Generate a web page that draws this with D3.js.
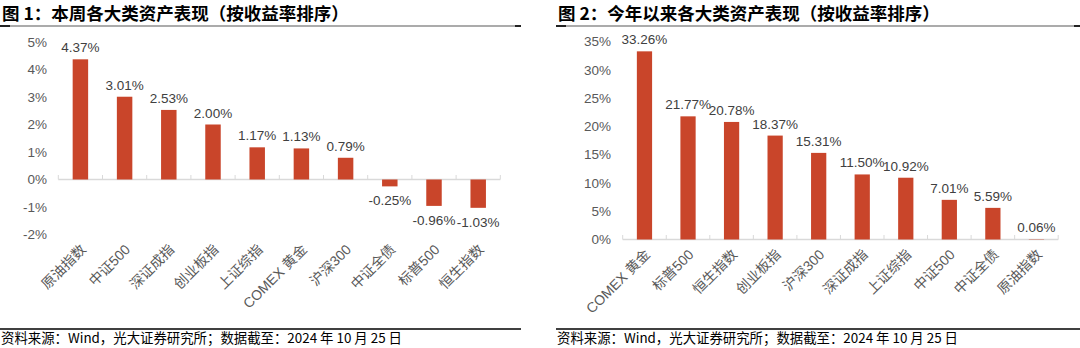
<!DOCTYPE html>
<html><head><meta charset="utf-8">
<script src="https://cdn.jsdelivr.net/npm/d3@7/dist/d3.min.js"></script>
<style>
html,body{margin:0;padding:0;background:#fff;}
svg{display:block;}
</style></head>
<body>
<svg id="c" width="1080" height="348"></svg>
<script>
// Chart 1: weekly performance
const cats1 = ["原油指数","中证500","深证成指","创业板指","上证综指","COMEX 黄金","沪深300","中证全债","标普500","恒生指数"];
const vals1 = [4.37, 3.01, 2.53, 2.00, 1.17, 1.13, 0.79, -0.25, -0.96, -1.03];
const ticks1 = [-2, -1, 0, 1, 2, 3, 4, 5];
const title1 = "图 1：本周各大类资产表现（按收益率排序）";

// Chart 2: year-to-date performance
const cats2 = ["COMEX 黄金","标普500","恒生指数","创业板指","沪深300","深证成指","上证综指","中证500","中证全债","原油指数"];
const vals2 = [33.26, 21.77, 20.78, 18.37, 15.31, 11.50, 10.92, 7.01, 5.59, 0.06];
const ticks2 = [0, 5, 10, 15, 20, 25, 30, 35];
const title2 = "图 2：今年以来各大类资产表现（按收益率排序）";

const source = "资料来源：Wind，光大证券研究所；数据截至：2024 年 10 月 25 日";

const svg = d3.select("#c");
const BAR = "#C9452A";
const LATIN = "'Liberation Sans', Arial, 'Noto Sans CJK SC', sans-serif";
const CJK = "'Noto Sans CJK SC', sans-serif";

function panel(opt){
  const g = svg.append("g");
  // title
  g.append("text").attr("x", opt.left + 2).attr("y", 20)
    .attr("font-family", CJK).attr("font-weight", "bold").attr("font-size", 17.5)
    .attr("fill", "#000").text(opt.title);
  g.append("line").attr("x1", opt.left).attr("x2", opt.right).attr("y1", 26).attr("y2", 26)
    .attr("stroke", "#595959").attr("stroke-width", 1.2);
  g.append("line").attr("x1", opt.left).attr("x2", opt.left + 10).attr("y1", 26).attr("y2", 26)
    .attr("stroke", "#000").attr("stroke-width", 1.6);
  g.append("line").attr("x1", opt.right - 6).attr("x2", opt.right).attr("y1", 26).attr("y2", 26)
    .attr("stroke", "#000").attr("stroke-width", 1.6);
  // source
  g.append("line").attr("x1", opt.left).attr("x2", opt.right).attr("y1", 329).attr("y2", 329)
    .attr("stroke", "#000").attr("stroke-width", 1.5);
  g.append("text").attr("x", opt.left + 1).attr("y", 343)
    .attr("font-family", CJK).attr("font-size", 13.4).attr("fill", "#000").text(source);

  const x = d3.scaleBand().domain(opt.cats).range([opt.px0, opt.px1])
    .paddingInner(0.65).paddingOuter(0.325);
  const y = d3.scaleLinear().domain(opt.domain).range(opt.yrange);

  // y axis labels
  const yAxis = d3.axisLeft(y).tickValues(opt.ticks).tickSize(0).tickPadding(0)
    .tickFormat(d => d + "%");
  const ya = g.append("g").attr("transform", `translate(${opt.ylab},0)`).call(yAxis);
  ya.select(".domain").remove();
  ya.selectAll("text").attr("font-family", LATIN).attr("font-size", 13.5).attr("fill", "#595959");

  // zero axis with tick marks pointing up
  const y0 = y(0);
  const step = x.step();
  const bounds = d3.range(opt.cats.length + 1).map(i => opt.px0 + i * step);
  g.append("line").attr("x1", opt.px0).attr("x2", opt.px1).attr("y1", y0).attr("y2", y0)
    .attr("stroke", "#d9d9d9").attr("stroke-width", 1.5);
  g.selectAll(".tk").data(bounds).enter().append("line")
    .attr("x1", d => d).attr("x2", d => d).attr("y1", y0).attr("y2", y0 - 4.5)
    .attr("stroke", "#d9d9d9").attr("stroke-width", 1);

  // bars
  g.selectAll(".bar").data(opt.vals).enter().append("rect")
    .attr("x", (d, i) => x(opt.cats[i]))
    .attr("width", x.bandwidth())
    .attr("y", d => Math.min(y(d), y0))
    .attr("height", d => Math.abs(y(d) - y0))
    .attr("fill", BAR);

  // data labels
  g.selectAll(".lbl").data(opt.vals).enter().append("text")
    .attr("x", (d, i) => x(opt.cats[i]) + x.bandwidth() / 2)
    .attr("y", d => d >= 0 ? y(d) - 7 : y(d) + 19)
    .attr("text-anchor", "middle")
    .attr("font-family", LATIN).attr("font-size", 13.5).attr("fill", "#404040")
    .text(d => d.toFixed(2) + "%");

  // category labels (rotated)
  const yb = opt.catY;
  g.selectAll(".cat").data(opt.cats).enter().append("text")
    .attr("transform", d => `translate(${x(d) + x.bandwidth() / 2 + 3},${yb}) rotate(-45)`)
    .attr("text-anchor", "end").attr("dy", "0.35em")
    .attr("font-family", LATIN).attr("font-size", 14).attr("fill", "#595959")
    .text(d => d);
}

panel({title: title1, cats: cats1, vals: vals1, ticks: ticks1, left: 0, right: 521,
  px0: 58.3, px1: 500.3, domain: [-2, 5], yrange: [234.5, 42], ylab: 47, catY: 247});
panel({title: title2, cats: cats2, vals: vals2, ticks: ticks2, left: 556, right: 1080,
  px0: 622.7, px1: 1058.2, domain: [0, 35], yrange: [239.5, 41.5], ylab: 611, catY: 252});
</script>
</body></html>
